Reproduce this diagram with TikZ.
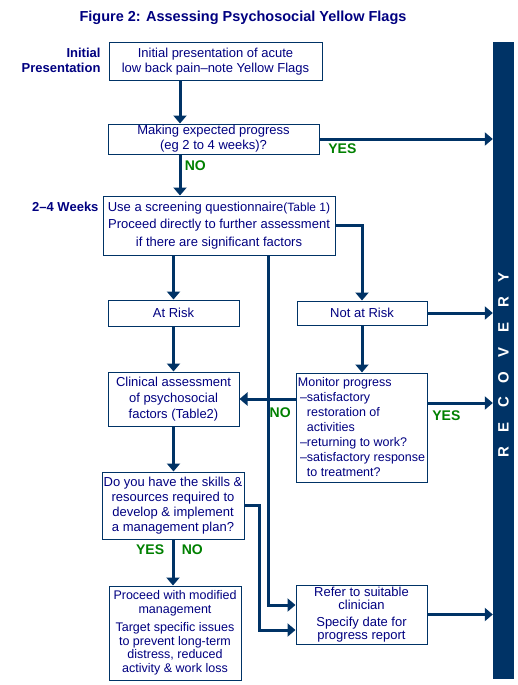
\documentclass[tikz,border=0pt]{standalone}
\usepackage{fontspec}
\setmainfont{Liberation Sans}
\usetikzlibrary{arrows.meta}
\definecolor{flagnavy}{HTML}{003366}
\definecolor{flagtext}{HTML}{000080}
\definecolor{flaggreen}{HTML}{008000}
\newcommand{\BarLetter}[1]{\makebox[25pt]{#1}}

\begin{document}
\begin{tikzpicture}[x=1pt,y=-1pt,
  box/.style={draw=flagnavy, line width=1pt, text=flagtext, align=center, inner sep=1pt,
    font=\fontsize{13}{15}\selectfont},
  flow/.style={draw=flagnavy, line width=3pt, -{Triangle[width=13pt,length=8pt]}},
  answer/.style={text=flaggreen, font=\fontsize{14}{16}\selectfont\bfseries},
  stage/.style={text=flagtext, font=\fontsize{13}{15}\selectfont\bfseries, align=right, anchor=east}]
\useasboundingbox (0,0) rectangle (518,685);

\node[text=flagtext, font=\fontsize{14.5}{16}\selectfont\bfseries] (title) at (243,18) {Figure 2: Assessing Psychosocial Yellow Flags};

\node[stage] (initial-lab) at (104,60) {Initial\\Presentation};
\node[stage] (weeks-lab) at (102,207) {2–4 Weeks};

\node[box, minimum width=213pt, minimum height=37pt] (initial) at (215.5,61.5) {Initial presentation of acute\\low back pain–note Yellow Flags};
\node[box, minimum width=211pt, minimum height=30pt] (progress) at (213.5,139) {Making expected progress\\(eg 2 to 4 weeks)?};
\node[box, minimum width=232pt, minimum height=59pt, font=\fontsize{13}{17.5}\selectfont] (screen) at (219,225.5) {Use a screening questionnaire{\fontsize{12}{14}\selectfont(Table 1)}\\Proceed directly to further assessment\\if there are significant factors};
\node[box, minimum width=131pt, minimum height=26pt] (atrisk) at (173.5,313) {At Risk};
\node[box, minimum width=130pt, minimum height=24pt] (notrisk) at (362,313) {Not at Risk};
\node[box, minimum width=131pt, minimum height=54pt, font=\fontsize{13}{16}\selectfont] (clinical) at (173.5,399) {Clinical assessment\\of psychosocial\\factors (Table2)};
\node[box, minimum width=131pt, minimum height=109pt, align=left, font=\fontsize{12.5}{15}\selectfont] (monitor) at (361.5,427.5) {Monitor progress\\\,–satisfactory\\\phantom{\,–}restoration of\\\phantom{\,–}activities\\\,–returning to work?\\\,–satisfactory response\\\phantom{\,–}to treatment?};
\node[box, minimum width=142pt, minimum height=67pt] (skills) at (173,505.5) {Do you have the skills \&\\resources required to\\develop \& implement\\a management plan?};
\node[box, minimum width=132pt, minimum height=94pt, font=\fontsize{12.5}{13.5}\selectfont] (modified) at (175,633) {Proceed with modified\\management\\[5pt]Target specific issues\\to prevent long-term\\distress, reduced\\activity \& work loss};
\node[box, minimum width=131pt, minimum height=59pt, font=\fontsize{13}{13.5}\selectfont] (refer) at (361.5,614.5) {Refer to suitable\\clinician\\[3pt]Specify date for\\progress report};

\node[fill=flagnavy, minimum width=21pt, minimum height=637pt, inner sep=0pt] (recovery) at (503.5,360.5) {};
\node[rotate=90, text=white, font=\fontsize{15}{15}\selectfont\bfseries] (recovery-text) at (503.5,365) {\BarLetter{R}\BarLetter{E}\BarLetter{C}\BarLetter{O}\BarLetter{V}\BarLetter{E}\BarLetter{R}\BarLetter{Y}};

\coordinate (mainline) at (180,100);
\coordinate (nolane) at (268,300);
\coordinate (skilllane) at (259,560);

\draw[flow] (initial.south -| mainline) -- (progress.north -| mainline);
\draw[flow] (progress.south -| mainline) -- node[answer, right, pos=0.28] {NO} (screen.north -| mainline);
\draw[flow] (progress.east) -- (progress.east -| recovery.west) node[answer, anchor=north west, at start, xshift=4pt] {YES};
\draw[flow] (screen.east) -| (notrisk.north);
\draw[flow] (screen.south -| atrisk) -- (atrisk.north);
\draw[flow] (screen.south -| nolane) |- ([yshift=9.5pt]refer.west);
\draw[flow] (notrisk.east) -- (notrisk.east -| recovery.west);
\draw[flow] (notrisk.south) -- (notrisk.south |- monitor.north);
\draw[flow] (atrisk.south) -- (clinical.north);
\draw[flow] (monitor.west |- clinical.east) -- (clinical.east) node[answer, anchor=north east, at start, yshift=-4pt] {NO};
\draw[flow] ([yshift=24.5pt]monitor.east) -- ([yshift=24.5pt]monitor.east -| recovery.west) node[answer, anchor=north west, at start, yshift=-3pt] {YES};
\draw[flow] (clinical.south) -- (clinical.south |- skills.north);
\draw[flow] (skills.south) -- (skills.south |- modified.north) node[answer, anchor=north east, at start, xshift=-4pt] {YES} node[answer, anchor=north west, at start, xshift=4pt] {NO};
\draw[flow] (skills.east) -| ([yshift=-15.5pt]refer.west -| skilllane) -- ([yshift=-15.5pt]refer.west);
\draw[flow] (refer.east) -- (refer.east -| recovery.west);
\end{tikzpicture}
\end{document}
